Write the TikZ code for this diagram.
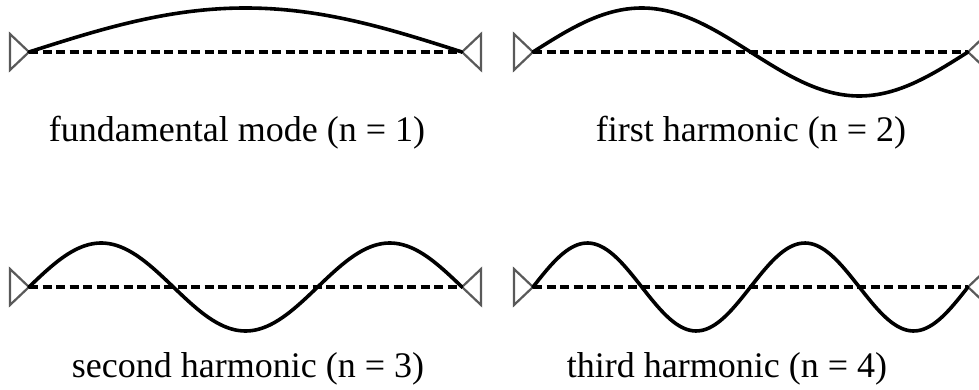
\documentclass[tikz,border=0pt]{standalone}
\usepackage{fontspec}
\setmainfont{Liberation Serif}
\usetikzlibrary{arrows.meta, positioning, calc}

\tikzset{
  string/.style={line width=3.6pt, black, line cap=round},
  rest/.style={line width=3.2pt, black, dash pattern=on 9pt off 4.5pt},
  support/.style={line width=2.2pt, gray!70!black, line join=miter},
  caption/.style={font=\fontsize{36}{43}\selectfont, anchor=base, inner sep=0pt},
}

\begin{document}
\begin{tikzpicture}[x=1pt, y=-1pt]
  \useasboundingbox (0,0) rectangle (979,390);

  % Strings: mode number / left end / right end / rest line
  \foreach \n/\xa/\xb/\yr in {1/29/462/52, 2/533/968/52, 3/29/462/287, 4/533/968/287} {
    \coordinate (left\n) at (\xa,\yr);
    \coordinate (right\n) at (\xb,\yr);

    % Supports
    \draw[support] (left\n) -- ++(-19,-18) -- ++(0,36) -- cycle;
    \draw[support] (right\n) -- ++(19,-18) -- ++(0,36) -- cycle;

    % Rest position
    \draw[rest] (left\n) -- (right\n);

    % Standing wave
    \draw[string] plot[variable=\t, domain=0:1, samples=80, smooth]
      ({\xa+(\xb-\xa)*\t}, {\yr-44*sin(180*\n*\t)});
  }

  % Labels
  \node[caption] (mode1) at (237,142) {fundamental mode (n = 1)};
  \node[caption] (mode2) at (751,142) {first harmonic (n = 2)};
  \node[caption] (mode3) at (248,377) {second harmonic (n = 3)};
  \node[caption] (mode4) at (727,377) {third harmonic (n = 4)};
\end{tikzpicture}
\end{document}
